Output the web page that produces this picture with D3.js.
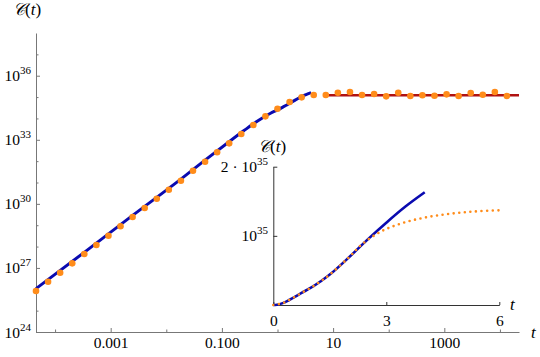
<!DOCTYPE html>
<html>
<head>
<meta charset="utf-8">
<script src="https://cdn.jsdelivr.net/npm/d3@7"></script>
<style>
  body { margin: 0; background: #fff; }
</style>
</head>
<body>
<div id="chart"></div>
<script>
// sampled times (log spaced) and C(t) of the orange points
const pointT = [4.540e-5, 7.485e-5, 1.234e-4, 2.035e-4, 3.355e-4, 5.531e-4, 9.119e-4, 1.503e-3,
  2.479e-3, 4.087e-3, 6.738e-3, 1.111e-2, 1.832e-2, 3.020e-2, 4.979e-2, 8.209e-2, 0.1353, 0.2231,
  0.3679, 0.6065, 1.0, 1.649, 2.718, 4.482, 7.389, 12.18, 20.09, 33.12, 54.60, 90.02, 148.4, 244.7,
  403.4, 665.1, 1097, 1808, 2981, 4915, 8103, 13360];
const pointC = [8.30e25, 2.26e26, 5.97e26, 1.64e27, 4.49e27, 1.18e28, 3.22e28, 8.89e28,
  2.42e29, 6.38e29, 1.74e30, 4.59e30, 1.21e31, 3.56e31, 9.40e31, 2.59e32, 6.82e32, 1.86e33,
  4.91e33, 1.25e34, 2.84e34, 5.86e34, 9.73e34, 1.25e35, 1.25e35, 1.60e35, 1.72e35, 1.25e35,
  1.39e35, 1.08e35, 1.60e35, 1.12e35, 1.21e35, 1.16e35, 1.34e35, 1.12e35, 1.55e35, 1.29e35,
  1.72e35, 1.12e35];

// early time curve (blue)
const fitT = [0, 4.54e-5, 3.35e-4, 2.48e-3, 0.0183, 0.0498, 0.135, 0.25, 0.368, 0.5, 0.75, 1.0,
  1.25, 1.5, 2.0, 2.5, 3.0, 3.5, 4.02];
const fitC = [0, 1.07e26, 5.37e27, 2.88e29, 1.445e31, 1.12e32, 8.13e32, 2.7e33, 5.6e33, 9.5e33,
  1.75e34, 2.5e34, 3.4e34, 4.4e34, 6.85e34, 9.45e34, 1.19e35, 1.42e35, 1.63e35];

// late time plateau (red)
const plateauT = [8.2, 22026];
const plateauC = [1.21e35, 1.21e35];

// inset, linear scale (orange dotted)
const insetT = [0, 0.25, 0.5, 0.75, 1.0, 1.25, 1.5, 2.0, 2.36, 2.85, 3.29, 3.73, 4.18, 4.62, 5.07, 5.51, 6.05];
const insetC = [0, 2.7e33, 9.5e33, 1.75e34, 2.5e34, 3.4e34, 4.4e34, 6.85e34, 8.8e34, 1.06e35,
  1.16e35, 1.23e35, 1.28e35, 1.315e35, 1.34e35, 1.358e35, 1.37e35];

// ticks
const xMajor = [1e-3, 1e-1, 10, 1000];
const xLabels = ["0.001", "0.100", "10", "1000"];
const xMinor = [1e-4, 1e-2, 1, 100, 1e4];
const yMajorExp = [24, 27, 30, 33, 36];
const yMinorExp = [25, 26, 28, 29, 31, 32, 34, 35, 37];
const insetXTicks = [0, 3, 6];
const insetYTicks = [1e35, 2e35];
const insetYLabels = [["10", "35"], ["2 \u00b7 10", "35"]];

const W = 540, H = 357;
const serif = '"Liberation Serif", "Times New Roman", "DejaVu Serif", serif';
const axisColor = "#777";
const insetAxisColor = "#333";
const orange = "#ff8c1a", blue = "#0a0ab0", red = "#b01212";

const svg = d3.select("#chart").append("svg")
  .attr("width", W).attr("height", H)
  .attr("font-family", serif);

// main scales
const x = d3.scaleLog().domain([4.54e-5, 22026]).range([36, 519]);
const y = d3.scaleLog().domain([1e24, 1e38]).range([332, 33]);

// y axis
svg.append("g").attr("transform", "translate(36,0)")
  .call(d3.axisLeft(y).tickValues(yMajorExp.map(e => Math.pow(10, e)))
    .tickFormat("").tickSizeInner(-4).tickSizeOuter(0));
svg.append("g").attr("transform", "translate(36,0)")
  .call(d3.axisLeft(y).tickValues(yMinorExp.map(e => Math.pow(10, e)))
    .tickFormat("").tickSizeInner(-2.5).tickSizeOuter(0))
  .select(".domain").remove();

yMajorExp.forEach(e => {
  const t = svg.append("text")
    .attr("x", 31).attr("y", y(Math.pow(10, e)) + 5.5)
    .attr("text-anchor", "end").style("font-size", "15.5px");
  t.append("tspan").text("10");
  t.append("tspan").attr("dy", -7).style("font-size", "11px").text(e);
});

// x axis
const xAxis = svg.append("g").attr("transform", "translate(0,332)")
  .call(d3.axisBottom(x).tickValues(xMajor).tickFormat((d, i) => xLabels[i])
    .tickSizeInner(-4).tickSizeOuter(0).tickPadding(5));
svg.append("g").attr("transform", "translate(0,332)")
  .call(d3.axisBottom(x).tickValues(xMinor).tickFormat("")
    .tickSizeInner(-2.5).tickSizeOuter(0))
  .select(".domain").remove();
xAxis.selectAll("text").style("font-size", "15.5px").attr("fill", "#000");

svg.selectAll(".domain, .tick line").attr("stroke", axisColor);

// axis titles
function cLabel(px, py, size) {
  const t = svg.append("text").attr("x", px).attr("y", py).style("font-size", size + "px");
  t.append("tspan").style("font-style", "italic").text("\ud835\udc9e");
  t.append("tspan").text("(");
  t.append("tspan").style("font-style", "italic").text("t");
  t.append("tspan").text(")");
}
cLabel(13, 15, 17);
svg.append("text").attr("x", 531).attr("y", 338).style("font-style", "italic")
  .style("font-size", "17px").text("t");

// main curves
const mainLine = d3.line().x(d => x(d[0])).y(d => y(d[1])).curve(d3.curveMonotoneX);
const fitData = fitT.map((t, i) => [t, fitC[i]]);

svg.append("path")
  .datum(fitData.filter(d => d[0] > 0))
  .attr("d", mainLine)
  .attr("fill", "none").attr("stroke", blue).attr("stroke-width", 3);

svg.append("path")
  .datum(plateauT.map((t, i) => [t, plateauC[i]]))
  .attr("d", mainLine)
  .attr("fill", "none").attr("stroke", red).attr("stroke-width", 2.4);

svg.append("g").selectAll("circle")
  .data(pointT.map((t, i) => [t, pointC[i]]))
  .join("circle")
  .attr("cx", d => x(d[0])).attr("cy", d => y(d[1]))
  .attr("r", 3.3).attr("fill", orange);

// inset
const ix = d3.scaleLinear().domain([0, 6]).range([273.3, 499.3]);
const iy = d3.scaleLinear().domain([0, 2e35]).range([305, 166.7]);

const inset = svg.append("g");
inset.append("g").attr("transform", "translate(0,305)")
  .call(d3.axisBottom(ix).tickValues(insetXTicks).tickFormat(d3.format("d"))
    .tickSizeInner(-3).tickSizeOuter(0).tickPadding(10));
inset.append("g").attr("transform", "translate(273.3,0)")
  .call(d3.axisLeft(iy).tickValues(insetYTicks).tickFormat("")
    .tickSizeInner(-4).tickSizeOuter(0));
inset.selectAll(".domain, .tick line").attr("stroke", insetAxisColor);
inset.selectAll("text").style("font-size", "15.5px").attr("fill", "#000");

insetYTicks.forEach((v, i) => {
  const t = svg.append("text")
    .attr("x", 268).attr("y", iy(v) + 5.5)
    .attr("text-anchor", "end").style("font-size", "15.5px");
  t.append("tspan").text(insetYLabels[i][0]);
  t.append("tspan").attr("dy", -7).style("font-size", "11px").text(insetYLabels[i][1]);
});
cLabel(258, 152, 17);
svg.append("text").attr("x", 510).attr("y", 310).style("font-style", "italic")
  .style("font-size", "17px").text("t");

const insetLine = d3.line().x(d => ix(d[0])).y(d => iy(d[1])).curve(d3.curveCatmullRom.alpha(0.5));
inset.append("path")
  .datum(fitData)
  .attr("d", insetLine)
  .attr("fill", "none").attr("stroke", blue).attr("stroke-width", 2.6);
inset.append("path")
  .datum(insetT.map((t, i) => [t, insetC[i]]))
  .attr("d", insetLine)
  .attr("fill", "none").attr("stroke", orange).attr("stroke-width", 2.6)
  .attr("stroke-linecap", "round").attr("stroke-dasharray", "0 5.6");

// force the serif face on every label (d3 axes set their own font attributes)
svg.selectAll("text").style("font-family", serif);
</script>
</body>
</html>
